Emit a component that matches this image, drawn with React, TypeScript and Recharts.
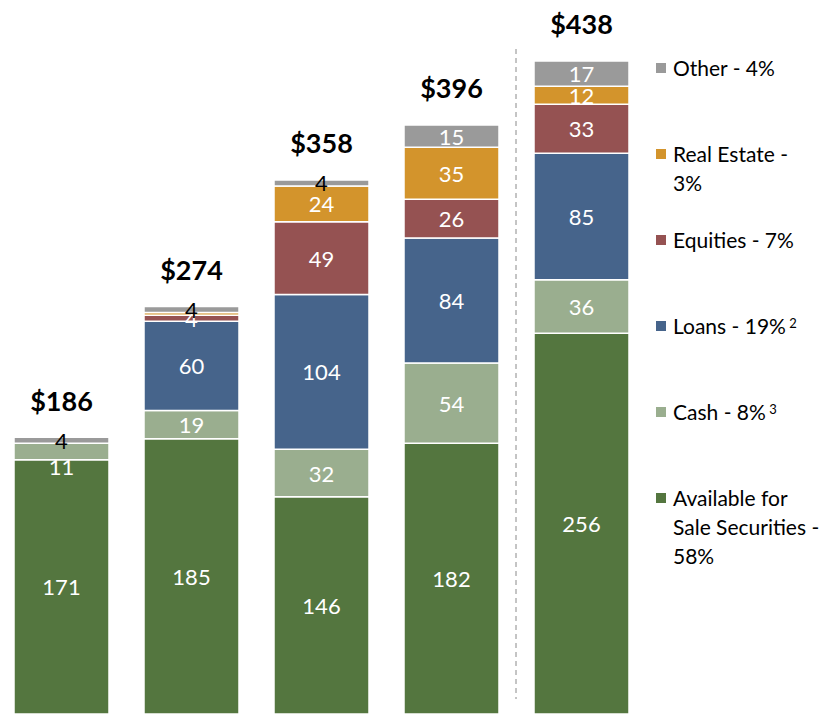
import { BarChart, Bar, XAxis, YAxis, LabelList } from "recharts";

// categories have no visible labels in the picture
const categories = ["1", "2", "3", "4", "5"];
const totals = ["$186", "$274", "$358", "$396", "$438"];

const afs = [171, 185, 146, 182, 256];
const cash = [11, 19, 32, 54, 36];
const loans = [0, 60, 104, 84, 85];
const equities = [0, 4, 49, 26, 33];
const realEstate = [0, 2, 24, 35, 12];
const other = [4, 4, 4, 15, 17];

const series = [
  { key: "afs", name: "Available for\nSale Securities -\n58%", sup: "", color: "#54763F" },
  { key: "cash", name: "Cash - 8%", sup: " 3", color: "#9AAE8F" },
  { key: "loans", name: "Loans - 19%", sup: " 2", color: "#46648B" },
  { key: "equities", name: "Equities - 7%", sup: "", color: "#955252" },
  { key: "realEstate", name: "Real Estate -\n3%", sup: "", color: "#D3942C" },
  { key: "other", name: "Other - 4%", sup: "", color: "#9A9A9A" },
];

const data = categories.map((c, i) => ({
  name: c,
  total: totals[i],
  afs: afs[i],
  cash: cash[i],
  loans: loans[i],
  equities: equities[i],
  realEstate: realEstate[i],
  other: other[i],
}));

const FONT = "Lato, 'Open Sans', sans-serif";

function segLabel(props: any) {
  const { x, y, width, height, value } = props;
  if (!value || value < 3) return null;
  // the "11" in the first bar sits just under its thin segment
  const cy = height < 17 && value >= 10 ? y + height + 7 : y + height / 2;
  return (
    <text
      x={x + width / 2}
      y={cy}
      fill="#fff"
      textAnchor="middle"
      dominantBaseline="central"
      fontSize={22}
      fontFamily={FONT}
    >
      {value}
    </text>
  );
}

function otherLabel(props: any) {
  const { x, y, width, height, value, index } = props;
  const small = value < 10;
  return (
    <g>
      {index === 4 && (
        <line x1={x - 18} x2={x - 18} y1={49} y2={699} stroke="#8a8a8a" strokeDasharray="5 4" />
      )}
      <text
        x={x + width / 2}
        y={y + height / 2}
        fill={small ? "#000" : "#fff"}
        textAnchor="middle"
        dominantBaseline="central"
        fontSize={22}
        fontFamily={FONT}
      >
        {value}
      </text>
      <text
        x={x + width / 2}
        y={y - 37}
        fill="#000"
        textAnchor="middle"
        dominantBaseline="central"
        fontSize={27}
        fontWeight="bold"
        fontFamily={FONT}
      >
        {totals[index]}
      </text>
    </g>
  );
}

function LegendBox() {
  const items = [...series].reverse();
  return (
    <div style={{ position: "absolute", left: 656, top: 53, width: 171, fontFamily: FONT }}>
      {items.map((s) => (
        <div key={s.key} style={{ height: 86, position: "relative" }}>
          <div
            style={{
              position: "absolute",
              left: 0,
              top: 10,
              width: 10,
              height: 10,
              background: s.color,
            }}
          />
          <div
            style={{
              position: "absolute",
              left: 17,
              top: 0,
              fontSize: 21,
              lineHeight: "29px",
              whiteSpace: "pre",
              color: "#000",
            }}
          >
            {s.name}
            {s.sup && <sup style={{ fontSize: 13, verticalAlign: "6px", lineHeight: 0 }}>{s.sup}</sup>}
          </div>
        </div>
      ))}
    </div>
  );
}

export default function App() {
  return (
    <div
      style={{
        position: "relative",
        width: 827,
        height: 714,
        margin: "-8px 0 0 -8px",
        background: "#fff",
        overflow: "hidden",
        fontFamily: FONT,
      }}
    >
      <BarChart
        width={827}
        height={714}
        data={data}
        margin={{ top: 0, right: 181, bottom: 0, left: -4 }}
        barSize={95}
      >
        <XAxis dataKey="name" hide />
        <YAxis hide domain={[0, 480]} />
        {series.map((s) => (
          <Bar
            key={s.key}
            dataKey={s.key}
            stackId="a"
            fill={s.color}
            stroke="#fff"
            strokeWidth={1.5}
            isAnimationActive={false}
          >
            <LabelList dataKey={s.key} content={s.key === "other" ? otherLabel : segLabel} />
          </Bar>
        ))}
      </BarChart>
      <LegendBox />
    </div>
  );
}
